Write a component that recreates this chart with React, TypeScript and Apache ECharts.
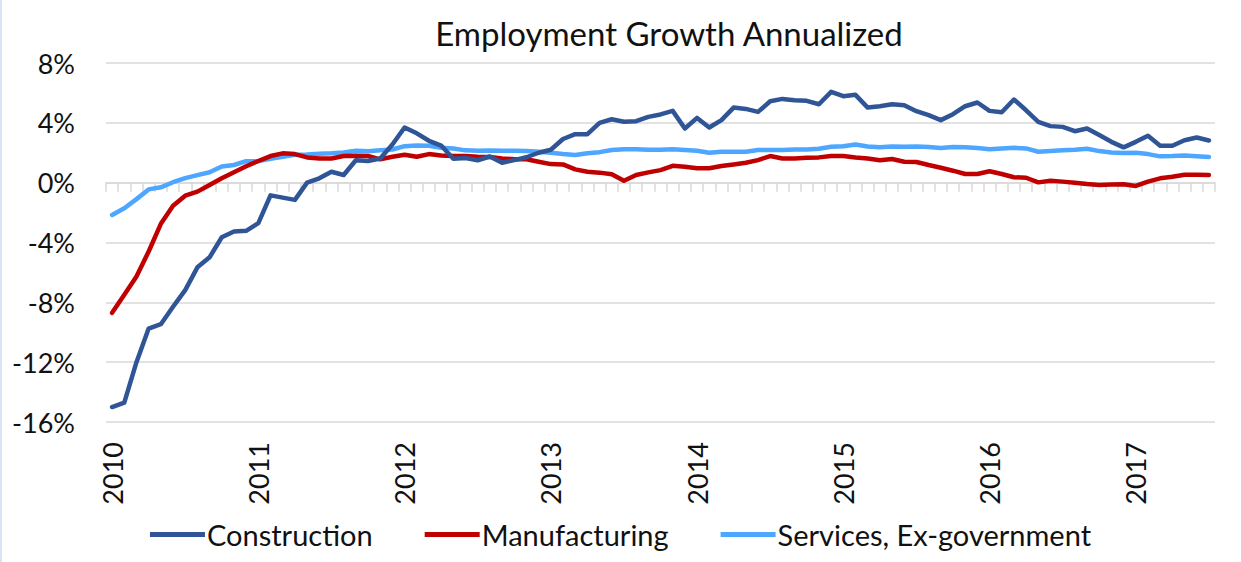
import React, { useEffect, useRef } from "react";
import * as echarts from "echarts";

const years = [2010, 2011, 2012, 2013, 2014, 2015, 2016, 2017];
const monthsInLastYear = 7;

const construction = [
  -15.0, -14.7, -12.0, -9.75, -9.46, -8.3, -7.18, -5.66, -4.99, -3.65, -3.27, -3.22,
  -2.71, -0.85, -1.0, -1.15, 0.0, 0.29, 0.73, 0.51, 1.5, 1.45, 1.62, 2.55,
  3.69, 3.3, 2.8, 2.48, 1.6, 1.65, 1.5, 1.75, 1.33, 1.51, 1.7, 2.0,
  2.2, 2.92, 3.24, 3.24, 4.0, 4.24, 4.07, 4.11, 4.4, 4.56, 4.8, 3.62,
  4.33, 3.69, 4.18, 5.02, 4.93, 4.73, 5.44, 5.6, 5.51, 5.47, 5.24, 6.07,
  5.78, 5.87, 5.02, 5.11, 5.24, 5.18, 4.78, 4.51, 4.18, 4.58, 5.11, 5.36,
  4.8, 4.71, 5.56, 4.84, 4.07, 3.78, 3.73, 3.44, 3.62, 3.18, 2.73, 2.36,
  2.73, 3.13, 2.47, 2.47, 2.84, 3.02, 2.82,
];

const manufacturing = [
  -8.7, -7.5, -6.28, -4.6, -2.75, -1.55, -0.87, -0.6, -0.15, 0.3, 0.7, 1.1,
  1.45, 1.78, 1.96, 1.91, 1.69, 1.62, 1.62, 1.78, 1.8, 1.78, 1.56, 1.73,
  1.87, 1.73, 1.91, 1.82, 1.78, 1.78, 1.73, 1.71, 1.62, 1.56, 1.56, 1.4,
  1.24, 1.22, 0.89, 0.73, 0.67, 0.56, 0.13, 0.51, 0.69, 0.84, 1.13, 1.07,
  0.96, 0.96, 1.11, 1.22, 1.33, 1.51, 1.78, 1.62, 1.62, 1.67, 1.69, 1.78,
  1.78, 1.68, 1.61, 1.5, 1.58, 1.4, 1.38, 1.18, 1.0, 0.8, 0.58, 0.58,
  0.76, 0.58, 0.36, 0.33, 0.02, 0.13, 0.07, 0.0, -0.09, -0.16, -0.13, -0.11,
  -0.22, 0.07, 0.29, 0.4, 0.53, 0.53, 0.51,
];

const services = [
  -2.16, -1.71, -1.1, -0.45, -0.31, 0.03, 0.3, 0.5, 0.7, 1.08, 1.18, 1.44,
  1.44, 1.6, 1.73, 1.87, 1.89, 1.93, 1.96, 2.02, 2.13, 2.1, 2.16, 2.22,
  2.44, 2.49, 2.47, 2.33, 2.29, 2.16, 2.13, 2.15, 2.13, 2.13, 2.11, 2.07,
  2.0, 1.91, 1.85, 1.96, 2.04, 2.18, 2.24, 2.24, 2.2, 2.2, 2.24, 2.18,
  2.13, 2.0, 2.07, 2.07, 2.07, 2.18, 2.18, 2.18, 2.22, 2.22, 2.27, 2.4,
  2.44, 2.55, 2.42, 2.36, 2.42, 2.4, 2.42, 2.38, 2.31, 2.38, 2.36, 2.31,
  2.24, 2.29, 2.33, 2.29, 2.07, 2.11, 2.16, 2.2, 2.27, 2.11, 2.02, 1.98,
  2.0, 1.91, 1.76, 1.78, 1.82, 1.76, 1.71,
];

const seriesNames = ["Construction", "Manufacturing", "Services, Ex-government"];
const seriesColors = ["#2f5597", "#c00000", "#4da6ff"];
const yTicks = { min: -16, max: 8, interval: 4 };

const categories: string[] = [];
years.forEach((y, yi) => {
  const n = yi === years.length - 1 ? monthsInLastYear : 12;
  for (let m = 1; m <= n; m++) categories.push(`${y}-${String(m).padStart(2, "0")}`);
});

const FONT = "Lato";

export default function App() {
  const ref = useRef<HTMLDivElement>(null);
  useEffect(() => {
    if (!ref.current) return;
    const chart = echarts.init(ref.current, undefined, { renderer: "svg" });
    const dataSets = [construction, manufacturing, services];
    chart.setOption({
      animation: false,
      backgroundColor: "#ffffff",
      textStyle: { fontFamily: FONT },
      title: {
        text: "Employment Growth Annualized",
        left: 664,
        textAlign: "center",
        top: 11,
        textStyle: { fontFamily: FONT, fontSize: 33, fontWeight: "normal", color: "#111" },
      },
      grid: { left: 106, right: 26, top: 63, bottom: 140, containLabel: false },
      legend: {
        bottom: 8,
        left: "center",
        icon: "rect",
        itemWidth: 55,
        itemHeight: 5,
        itemGap: 52,
        textStyle: { fontFamily: FONT, fontSize: 29, color: "#111", padding: [0, 0, 0, -3] },
        data: seriesNames,
      },
      graphic: [
        {
          type: "line",
          shape: { x1: 1, y1: 0, x2: 1, y2: 562 },
          style: { stroke: "#dbe4f3", lineWidth: 2 },
        },
      ],
      xAxis: [
        {
          type: "category",
          data: categories,
          boundaryGap: true,
          position: "bottom",
          axisLine: { onZero: true, lineStyle: { color: "#d9d9d9", width: 1.5 } },
          axisTick: { show: true, interval: 0, length: 9, lineStyle: { color: "#d9d9d9", width: 1.5 } },
          axisLabel: { show: false },
          splitLine: { show: false },
        },
        {
          type: "category",
          data: categories,
          boundaryGap: true,
          position: "bottom",
          axisLine: { show: false, onZero: false },
          axisTick: { show: false },
          splitLine: { show: false },
          axisLabel: {
            show: true,
            rotate: 90,
            margin: 20,
            interval: (index: number) => index % 12 === 0,
            formatter: (v: string) => v.slice(0, 4),
            fontFamily: FONT,
            fontSize: 27,
            color: "#111",
          },
        },
      ],
      yAxis: {
        type: "value",
        min: yTicks.min,
        max: yTicks.max,
        interval: yTicks.interval,
        axisLine: { show: false },
        axisTick: { show: false },
        axisLabel: {
          formatter: "{value}%",
          margin: 31,
          fontFamily: FONT,
          fontSize: 27,
          color: "#111",
        },
        splitLine: { lineStyle: { color: "#d9d9d9", width: 1.5 } },
      },
      series: seriesNames.map((name, i) => ({
        name,
        type: "line",
        xAxisIndex: 0,
        data: dataSets[i],
        showSymbol: false,
        symbol: "none",
        lineStyle: { color: seriesColors[i], width: 4.5, join: "round", cap: "round" },
        itemStyle: { color: seriesColors[i] },
        z: 3 - i,
      })),
    });
    return () => chart.dispose();
  }, []);
  return (
    <div
      ref={ref}
      style={{ position: "fixed", left: 0, top: 0, width: 1241, height: 562 }}
    />
  );
}
